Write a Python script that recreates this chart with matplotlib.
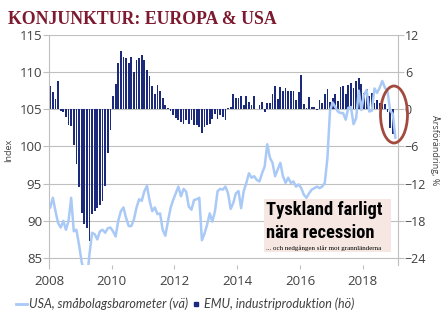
import numpy as np
import matplotlib
matplotlib.use("Agg")
import matplotlib.pyplot as plt
from matplotlib.lines import Line2D
from matplotlib.patches import Rectangle, Ellipse

# EMU industriproduktion, årsförändring % (månadsvis, 2008-01 .. 2018-12)
emu_ip = [
    3.7, 2.8, 1.7, 4.5, -0.3, -0.5, -1.3, -2.5, -2.7, -5.7, -8.9, -12.6,
    -16.7, -18.5, -19.1, -21.3, -16.9, -16.4, -15.9, -15.5, -14.8, -12.4, -7.0, -3.4,
    2.1, 4.0, 7.5, 9.4, 8.5, 8.2, 7.5, 8.4, 6.0, 8.0, 8.2, 8.7,
    8.0, 6.3, 5.3, 3.8, 2.5, 3.9, 3.0, 1.8, 0.7, 0.2, -0.3, -1.0,
    -1.4, -1.7, -2.1, -2.3, -1.7, -2.3, -1.8, -2.5, -2.6, -2.9, -3.9, -2.9,
    -2.6, -2.4, -1.6, -0.8, -1.6, -1.0, -1.3, -1.8, 0.2, 0.4, 2.4, 1.8,
    1.8, 2.2, 0.7, 2.1, 1.1, 0.7, 2.1, 0.0, 0.7, 1.1, -0.5, 1.0,
    1.0, 2.5, 3.7, 1.7, 3.6, 3.0, 3.4, 2.9, 2.9, 3.0, 1.5, 2.8,
    5.6, 0.9, 0.2, 1.9, 0.3, 0.4, -0.1, 1.5, 1.0, 2.5, 3.2, 1.1,
    1.8, 2.5, 1.4, 3.6, 3.8, 2.4, 3.9, 4.2, 3.4, 4.6, 5.0, 4.0,
    2.6, 3.3, 2.1, 2.6, 1.0, 1.5, 1.0, 0.9, 0.9, -0.5, -3.0, -4.0,
]

# USA småbolagsbarometer, index (månadsvis, 2008-01 .. 2019-01)
usa_sbo = [
    91.8, 93.1, 91.3, 89.7, 89.1, 90.0, 88.8, 90.0, 93.1, 88.6, 88.8, 86.8,
    84.5, 83.0, 82.0, 85.5, 88.4, 88.2, 87.5, 88.6, 88.8, 88.4, 89.0, 89.1,
    88.6, 87.9, 90.0, 91.3, 91.8, 90.4, 89.3, 89.3, 90.2, 91.8, 92.9, 92.7,
    94.0, 94.7, 92.7, 91.3, 91.8, 90.9, 91.0, 88.8, 88.0, 89.9, 91.7, 92.8,
    93.7, 94.6, 93.3, 94.3, 93.9, 91.9, 91.5, 92.8, 92.9, 93.1, 87.4, 88.3,
    89.5, 91.0, 89.9, 91.3, 94.0, 94.3, 94.2, 94.6, 93.7, 91.6, 92.4, 93.7,
    94.0, 91.7, 94.0, 95.1, 96.4, 95.8, 96.0, 95.5, 95.3, 96.4, 97.3, 100.3,
    98.5, 97.8, 96.0, 96.9, 97.8, 96.0, 95.1, 95.8, 95.1, 95.3, 94.6, 94.9,
    94.4, 93.5, 93.1, 93.7, 94.2, 94.4, 94.6, 94.4, 94.6, 95.1, 98.4, 104.8,
    105.9, 105.3, 104.7, 104.5, 104.5, 103.6, 105.2, 105.3, 103.0, 103.8, 107.5, 104.9,
    106.9, 107.6, 104.7, 104.8, 107.8, 107.2, 107.9, 108.8, 107.9, 107.4, 104.8, 104.4,
    101.2,
]

left_ticks = [85, 90, 95, 100, 105, 110, 115]
right_ticks = [-24, -18, -12, -6, 0, 6, 12]
year_ticks = [2008, 2010, 2012, 2014, 2016, 2018]

x_bars = 2008 + (np.arange(len(emu_ip)) + 0.5) / 12
x_line = 2008 + (np.arange(len(usa_sbo)) + 0.5) / 12

navy = "#1B2A7A"
light = "#A9C9F7"
grey = "#BFBFBF"
txt = "#404040"

plt.rcParams["font.family"] = ["Open Sans", "DejaVu Sans"]

fig = plt.figure(figsize=(4.45, 3.26), dpi=100)
ax = fig.add_axes([0.110, 0.187, 0.784, 0.706])
ax2 = ax.twinx()

ax2.bar(x_bars, emu_ip, width=0.68 / 12, color=navy, linewidth=0)
ax.plot(x_line, usa_sbo, color=light, lw=1.8, solid_joinstyle="round")

ax.set_zorder(ax2.get_zorder() + 1)
ax.patch.set_visible(False)

ybot = 84.06
ax.set_ylim(ybot, 115)
ax2.set_ylim((ybot - 105) * 1.2, 12)
ax.set_xlim(2008, 2019.12)

ax.set_yticks(left_ticks)
ax2.set_yticks(right_ticks)
ax.set_xticks(year_ticks)

ax2.grid(axis="y", color=grey, lw=0.8)
ax2.set_axisbelow(True)

for s in ["top", "bottom", "right"]:
    ax.spines[s].set_visible(False)
for s in ["top", "bottom", "left"]:
    ax2.spines[s].set_visible(False)
ax.spines["left"].set_color(grey)
ax2.spines["right"].set_color(grey)

ax.tick_params(axis="y", length=4, color=grey, labelsize=9.5, labelcolor=txt, pad=1)
ax.tick_params(axis="x", length=3, color=grey, labelsize=9.5, labelcolor=txt, pad=4)
ax2.tick_params(axis="y", length=4, color=grey, labelsize=9, labelcolor=txt, pad=1)

ax.set_ylabel("Index", fontsize=6.5, color=txt)
ax.yaxis.set_label_coords(-0.103, 0.5)
lab = ax2.set_ylabel("Årsförändring, %", fontsize=6.5, color=txt, rotation=-90)
lab.set_ha("center")
lab.set_va("center")
ax2.yaxis.set_label_coords(1.105, 0.5)

fig.text(8 / 445, 1 - 24 / 326, "KONJUNKTUR: EUROPA & USA", family="Liberation Serif",
         weight="bold", size=12.8, color="#7D1A30", va="baseline")

# rutan med rubriken
cond = ["Roboto Condensed", "Open Sans Condensed", "Liberation Sans Narrow", "DejaVu Sans"]
fig.patches.append(Rectangle((264 / 445, 1 - 252 / 326), 127 / 445, 53 / 326,
                             transform=fig.transFigure, facecolor="#F6E7E2",
                             edgecolor="none", zorder=5))
fig.text(266 / 445, 1 - 215 / 326, "Tyskland farligt", family=cond, stretch="condensed",
         weight="bold", size=13.3, color="black", va="baseline", zorder=6)
fig.text(266 / 445, 1 - 238 / 326, "nära recession", family=cond, stretch="condensed",
         weight="bold", size=13.3, color="black", va="baseline", zorder=6)
fig.text(266 / 445, 1 - 250 / 326, "... och nedgången slår mot grannländerna",
         family="Liberation Serif", size=5, color="black", va="baseline", zorder=6)

fig.patches.append(Ellipse((394 / 445, 1 - 114.5 / 326), 27 / 445, 57 / 326,
                           transform=fig.transFigure, fill=False,
                           edgecolor="#A34A3E", lw=2.0, zorder=6))

handles = [Line2D([], [], color=light, lw=2),
           Line2D([], [], marker="s", color=navy, ls="none", markersize=3.5)]
fig.legend(handles, ["USA, småbolagsbarometer (vä)", "EMU, industriproduktion (hö)"],
           loc="center left", bbox_to_anchor=(0.01, 0.067), ncol=2, frameon=False,
           prop={"family": "Lato", "style": "italic", "size": 9}, labelcolor=txt,
           handlelength=0.9, handletextpad=0.15, columnspacing=0.2)

fig.savefig("out.png", dpi=100, facecolor="white")
